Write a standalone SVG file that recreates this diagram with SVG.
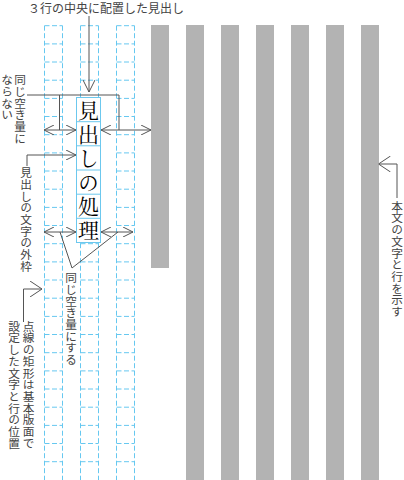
<svg xmlns="http://www.w3.org/2000/svg" width="404" height="480" viewBox="0 0 404 480">
<style>
.lbl{font-family:"Noto Sans CJK JP","Noto Sans CJK SC",sans-serif;font-size:11.7px;fill:#444}
.vt{writing-mode:vertical-rl}
.grid{fill:none;stroke:#66c8f0;stroke-width:1;stroke-dasharray:5 2.5}
.bar{fill:#b3b3b3}
.ln{fill:none;stroke:#555;stroke-width:1}
.hd{font-family:"Noto Serif CJK JP","Noto Sans CJK JP",serif;font-size:21px;letter-spacing:3.17px;fill:#000;writing-mode:vertical-rl}
.cell{fill:#fff;stroke:#6cc8ee;stroke-width:1}
</style>
<defs>
<marker id="ma" viewBox="0 0 10 10" refX="10" refY="5" markerWidth="10" markerHeight="10" markerUnits="userSpaceOnUse" orient="auto-start-reverse"><path d="M0,0 L10,5 L0,10" fill="none" stroke="#555" stroke-width="1"/></marker>
<marker id="mb" viewBox="0 0 12 12" refX="12" refY="6" markerWidth="12" markerHeight="12" markerUnits="userSpaceOnUse" orient="auto-start-reverse"><path d="M0,0 L12,6 L0,12" fill="none" stroke="#555" stroke-width="1"/></marker>
<marker id="mc" viewBox="0 0 12 16" refX="12" refY="8" markerWidth="12" markerHeight="16" markerUnits="userSpaceOnUse" orient="auto-start-reverse"><path d="M0,0 L12,8 L0,16" fill="none" stroke="#555" stroke-width="1"/></marker>
</defs>

<g id="body-lines">
<rect class="bar" x="151" y="25" width="18" height="243"/>
<rect class="bar" x="186" y="25" width="18" height="455"/>
<rect class="bar" x="221" y="25" width="18" height="455"/>
<rect class="bar" x="256" y="25" width="18" height="455"/>
<rect class="bar" x="291" y="25" width="18" height="455"/>
<rect class="bar" x="326" y="25" width="18" height="455"/>
<rect class="bar" x="361" y="25" width="18" height="455"/>
</g>

<g id="grid">
<path class="grid" d="M44.5,25.7 V480 M62.5,25.7 V480 M80.5,25.7 V480 M98.5,25.7 V480 M116.5,25.7 V480 M134.5,25.7 V480"/>
<path class="grid" d="M44.5,25.7h18 M44.5,43.9h18 M44.5,62h18 M44.5,80.2h18 M44.5,98.4h18 M44.5,116.5h18 M44.5,134.7h18 M44.5,152.9h18 M44.5,171h18 M44.5,189.2h18 M44.5,207.4h18 M44.5,225.5h18 M44.5,243.7h18 M44.5,261.9h18 M44.5,280h18 M44.5,298.2h18 M44.5,316.4h18 M44.5,334.5h18 M44.5,352.7h18 M44.5,370.9h18 M44.5,389h18 M44.5,407.2h18 M44.5,425.4h18 M44.5,443.5h18 M44.5,461.7h18"/>
<path class="grid" d="M80.5,25.7h18 M80.5,43.9h18 M80.5,62h18 M80.5,80.2h18 M80.5,98.4h18 M80.5,116.5h18 M80.5,134.7h18 M80.5,152.9h18 M80.5,171h18 M80.5,189.2h18 M80.5,207.4h18 M80.5,225.5h18 M80.5,243.7h18 M80.5,261.9h18 M80.5,280h18 M80.5,298.2h18 M80.5,316.4h18 M80.5,334.5h18 M80.5,352.7h18 M80.5,370.9h18 M80.5,389h18 M80.5,407.2h18 M80.5,425.4h18 M80.5,443.5h18 M80.5,461.7h18"/>
<path class="grid" d="M116.5,25.7h18 M116.5,43.9h18 M116.5,62h18 M116.5,80.2h18 M116.5,98.4h18 M116.5,116.5h18 M116.5,134.7h18 M116.5,152.9h18 M116.5,171h18 M116.5,189.2h18 M116.5,207.4h18 M116.5,225.5h18 M116.5,243.7h18 M116.5,261.9h18 M116.5,280h18 M116.5,298.2h18 M116.5,316.4h18 M116.5,334.5h18 M116.5,352.7h18 M116.5,370.9h18 M116.5,389h18 M116.5,407.2h18 M116.5,425.4h18 M116.5,443.5h18 M116.5,461.7h18"/>
</g>

<g id="heading">
<rect class="cell" x="76.5" y="97.5" width="24" height="145"/>
<path class="cell" d="M76.5,121.7h24 M76.5,145.8h24 M76.5,170h24 M76.5,194.2h24 M76.5,218.3h24"/>
<text class="hd" x="88.5" y="99.1">見出しの処理</text>
</g>

<g id="connectors">
<path class="ln" d="M89,16 V92" marker-end="url(#mb)"/>
<path class="ln" d="M27,95 H119 V130"/>
<path class="ln" d="M59.5,95 V130"/>
<path class="ln" d="M44,130 H76" marker-start="url(#ma)" marker-end="url(#ma)"/>
<path class="ln" d="M101,130 H151" marker-start="url(#ma)" marker-end="url(#ma)"/>
<path class="ln" d="M27,166 V155 H76" marker-end="url(#ma)"/>
<path class="ln" d="M44,232 H76" marker-start="url(#ma)" marker-end="url(#ma)"/>
<path class="ln" d="M101,232 H133" marker-start="url(#ma)" marker-end="url(#ma)"/>
<path class="ln" d="M60,232 L72,268 L118,232"/>
<path class="ln" d="M23.5,322 V289 H42" marker-end="url(#mc)"/>
<path class="ln" d="M397,198 V164 H378.5" marker-end="url(#mc)"/>
</g>

<g id="label-title">
<text class="lbl" x="28" y="13" style="font-size:12px">３行の中央に配置した見出し</text>
</g>
<g id="label-not-same">
<text class="lbl vt" x="20" y="74">同じ空き量に</text>
<text class="lbl vt" x="7" y="74">ならない</text>
</g>
<g id="label-frame">
<text class="lbl vt" x="26" y="167">見出しの文字の外枠</text>
</g>
<g id="label-same">
<text class="lbl vt" x="71" y="272">同じ空き量にする</text>
</g>
<g id="label-grid">
<text class="lbl vt" x="28.5" y="320.5">点線の矩形は基本版面で</text>
<text class="lbl vt" x="14" y="320.5">設定した文字と行の位置</text>
</g>
<g id="label-body">
<text class="lbl vt" x="397" y="200.5">本文の文字と行を示す</text>
</g>
</svg>
